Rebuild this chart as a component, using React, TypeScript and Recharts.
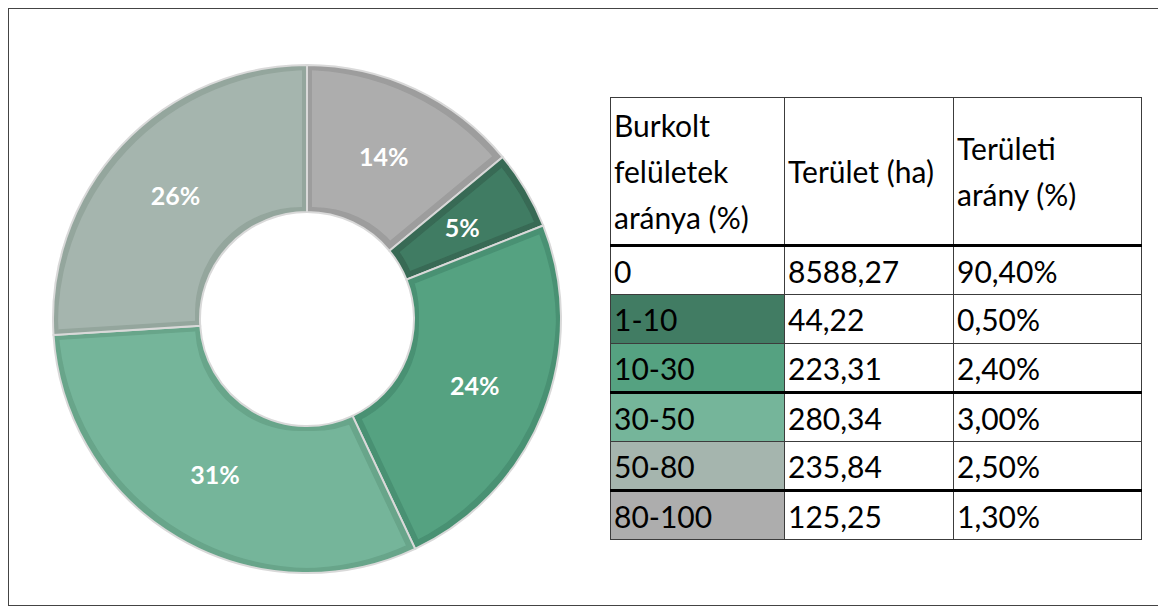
import { Cell, Pie, PieChart } from "recharts";

// table rows
const categories = ["0", "1-10", "10-30", "30-50", "50-80", "80-100"];
const areaHa = [8588.27, 44.22, 223.31, 280.34, 235.84, 125.25];
const areaShare = [90.4, 0.5, 2.4, 3.0, 2.5, 1.3];

// donut: clockwise from 12 o'clock
const pieCategories = ["80-100", "1-10", "10-30", "30-50", "50-80"];
const piePercents = [14, 5, 24, 31, 26];

const FILL: Record<string, string> = {
  "1-10": "#417c63",
  "10-30": "#55a281",
  "30-50": "#75b59a",
  "50-80": "#a5b5ae",
  "80-100": "#adadad",
};
const EDGE: Record<string, string> = {
  "1-10": "#376b54",
  "10-30": "#4a9173",
  "30-50": "#67a58a",
  "50-80": "#94a69d",
  "80-100": "#9d9d9d",
};
const THICK_BELOW = ["10-30", "50-80"];

const pieData = pieCategories.map((name, i) => ({ name, value: piePercents[i] }));

const fmt = (v: number) => v.toFixed(2).replace(".", ",");
const RADIAN = Math.PI / 180;

function renderLabel(props: any) {
  const { cx, cy, midAngle, innerRadius, outerRadius, value } = props;
  const r = (innerRadius + outerRadius) / 2;
  const x = cx + r * Math.cos(-midAngle * RADIAN);
  const y = cy + r * Math.sin(-midAngle * RADIAN);
  return (
    <text
      x={x}
      y={y}
      fill="#fff"
      textAnchor="middle"
      dominantBaseline="central"
      style={{ fontFamily: "Lato", fontWeight: 700, fontSize: 25 }}
    >
      {`${value}%`}
    </text>
  );
}

const thin = "1px solid #3c3c3c";
const thick = "3px solid #000";

export default function App() {
  return (
    <div
      style={{
        position: "relative",
        width: 1152,
        height: 598,
        boxSizing: "border-box",
        border: "1px solid #444",
        background: "#fff",
        fontFamily: "Lato",
      }}
    >
      {/* inset band filters, one per slice colour */}
      <svg width={0} height={0} style={{ position: "absolute" }}>
        <defs>
          {pieCategories.map((c, i) => (
            <filter id={`inset-${i}`} key={c}>
              <feMorphology in="SourceAlpha" operator="erode" radius={6} result="inner" />
              <feFlood floodColor={FILL[c]} result="col" />
              <feComposite in="col" in2="inner" operator="in" result="innerFill" />
              <feMerge>
                <feMergeNode in="SourceGraphic" />
                <feMergeNode in="innerFill" />
              </feMerge>
            </filter>
          ))}
        </defs>
      </svg>

      <div style={{ position: "absolute", left: 0, top: 0 }}>
        <PieChart width={600} height={596} margin={{ top: 0, right: 0, bottom: 0, left: 0 }}>
          <Pie
            data={pieData}
            dataKey="value"
            nameKey="name"
            cx={298}
            cy={310}
            innerRadius={107}
            outerRadius={254}
            startAngle={90}
            endAngle={-270}
            stroke="#d9d9d9"
            strokeWidth={2}
            label={renderLabel}
            labelLine={false}
            isAnimationActive={false}
          >
            {pieData.map((d, i) => (
              <Cell key={d.name} fill={EDGE[d.name]} filter={`url(#inset-${i})`} />
            ))}
          </Pie>
        </PieChart>
      </div>

      <table
        style={{
          position: "absolute",
          left: 601,
          top: 88,
          width: 531,
          borderCollapse: "collapse",
          tableLayout: "fixed",
          fontFamily: "Lato",
          fontSize: 30,
          color: "#000",
          border: thin,
        }}
      >
        <colgroup>
          <col style={{ width: 174 }} />
          <col style={{ width: 169 }} />
          <col style={{ width: 188 }} />
        </colgroup>
        <tbody>
          <tr style={{ height: 148 }}>
            <td style={{ border: thin, borderBottom: thick, padding: "0 3px", lineHeight: "46px" }}>
              Burkolt
              <br />
              felületek
              <br />
              aránya (%)
            </td>
            <td style={{ border: thin, borderBottom: thick, padding: "0 3px", lineHeight: "46px" }}>
              Terület (ha)
            </td>
            <td style={{ border: thin, borderBottom: thick, padding: "0 3px", lineHeight: "46px" }}>
              Területi
              <br />
              arány (%)
            </td>
          </tr>
          {categories.map((c, i) => {
            const bottom = THICK_BELOW.includes(c) ? thick : thin;
            const cell = { border: thin, borderBottom: bottom, padding: "0 3px", lineHeight: "30px" };
            return (
              <tr key={c} style={{ height: 49 }}>
                <td style={{ ...cell, background: FILL[c] ?? "#fff" }}>{c}</td>
                <td style={cell}>{fmt(areaHa[i])}</td>
                <td style={cell}>{fmt(areaShare[i])}%</td>
              </tr>
            );
          })}
        </tbody>
      </table>
    </div>
  );
}
